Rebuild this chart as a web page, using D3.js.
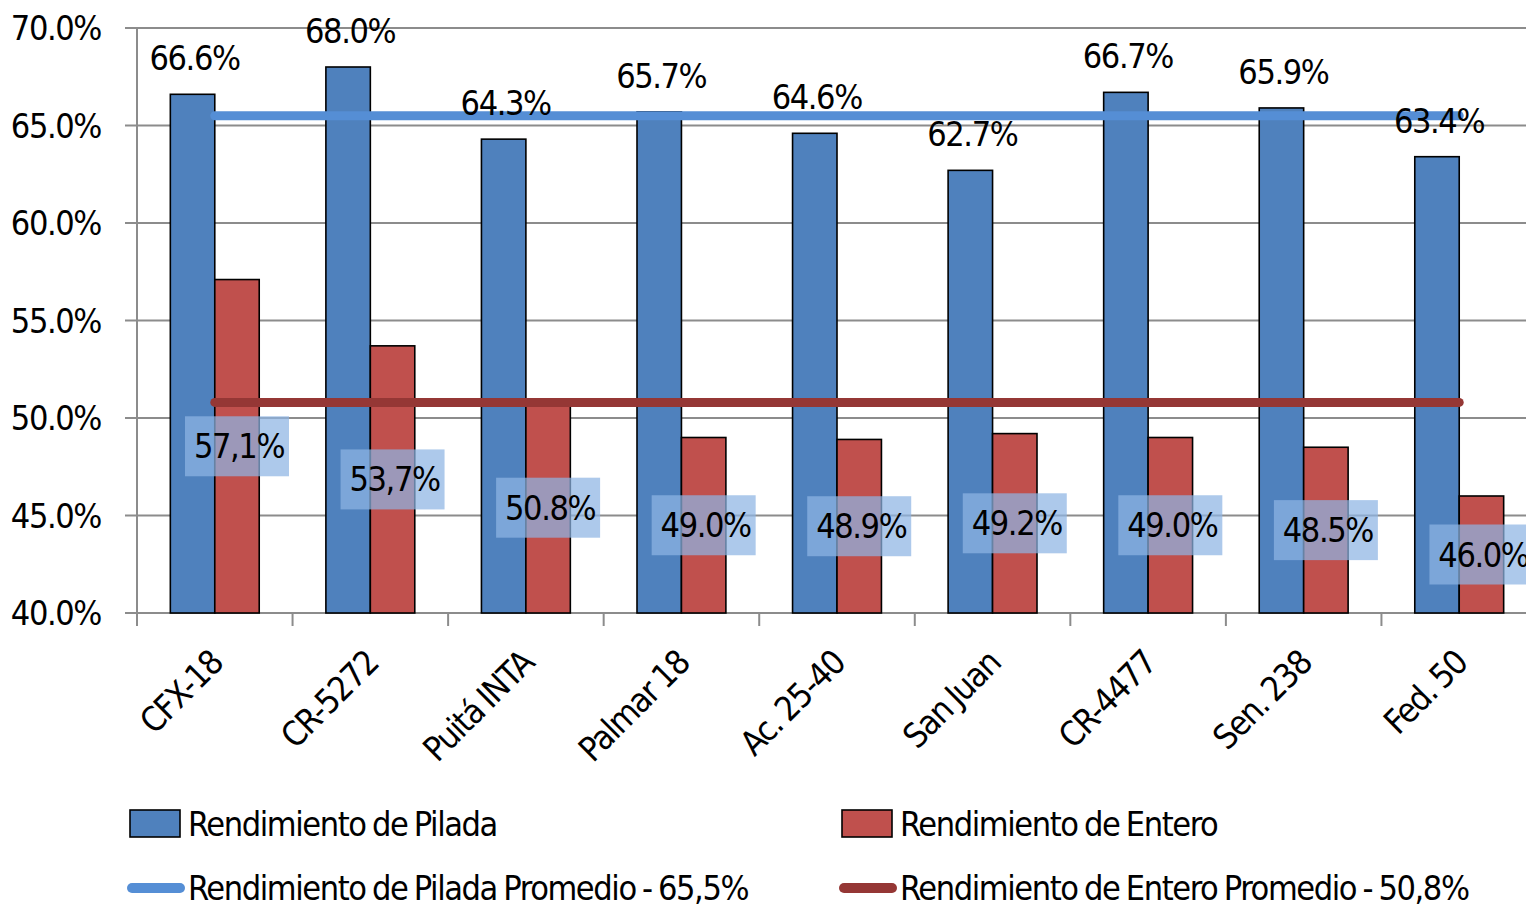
<!DOCTYPE html>
<html><head><meta charset="utf-8">
<script src="https://cdn.jsdelivr.net/npm/d3@7"></script>
<style>
html,body{margin:0;padding:0;background:#fff;overflow:hidden}
text{font-family:"Liberation Sans Narrow","DejaVu Sans Condensed","Arial Narrow",sans-serif;fill:#000}
</style></head><body>
<svg id="c" width="1526" height="907"></svg>
<script>
const categories = ["CFX-18","CR-5272","Puitá INTA","Palmar 18","Ac. 25-40","San Juan","CR-4477","Sen. 238","Fed. 50"];
const pilada = [66.6,68.0,64.3,65.7,64.6,62.7,66.7,65.9,63.4];
const entero = [57.1,53.7,50.8,49.0,48.9,49.2,49.0,48.5,46.0];
const piladaLabels = ["66.6%","68.0%","64.3%","65.7%","64.6%","62.7%","66.7%","65.9%","63.4%"];
const enteroLabels = ["57,1%","53,7%","50.8%","49.0%","48.9%","49.2%","49.0%","48.5%","46.0%"];
const piladaAvg = 65.5;
const enteroAvg = 50.8;
const yTicks = [40,45,50,55,60,65,70];
const yTickLabels = ["40.0%","45.0%","50.0%","55.0%","60.0%","65.0%","70.0%"];
const seriesNames = ["Rendimiento de Pilada","Rendimiento de Entero"];
const avgNames = ["Rendimiento de Pilada Promedio - 65,5%","Rendimiento de Entero Promedio  - 50,8%"];

const svg = d3.select("#c");
const L = 137, R = 1537, T = 28, B = 613;
const FS = 34, LS = "-1.4px", WS = "-2px";
const blue = "#4F81BD", red = "#C0504D", blueLine = "#558ED5", redLine = "#953735", grid = "#8C8C8C";

const y = d3.scaleLinear().domain([40,70]).range([B,T]);
const x = d3.scaleBand().domain(categories).range([L,R]).paddingInner(0).paddingOuter(0);
const xs = d3.scaleBand().domain(["p","e"]).range([0,x.bandwidth()]).paddingInner(0).paddingOuter(0.75);

function txt(sel){ return sel.style("font-size",FS+"px").style("letter-spacing",LS).style("word-spacing",WS); }

// gridlines
svg.append("g").selectAll("line").data(yTicks).join("line")
  .attr("x1",125).attr("x2",1526).attr("y1",d=>y(d)).attr("y2",d=>y(d))
  .attr("stroke",grid).attr("stroke-width",2);
// y axis line
svg.append("line").attr("x1",L).attr("x2",L).attr("y1",T).attr("y2",B+13).attr("stroke",grid).attr("stroke-width",2);
// x ticks
svg.append("g").selectAll("line").data(categories.concat(["_end"])).join("line")
  .attr("x1",(d,i)=>L+i*x.step()).attr("x2",(d,i)=>L+i*x.step())
  .attr("y1",B).attr("y2",B+13).attr("stroke",grid).attr("stroke-width",2);

// y labels
txt(svg.append("g").selectAll("text").data(yTicks).join("text")
  .attr("x",101).attr("y",d=>y(d)+12).attr("text-anchor","end"))
  .text((d,i)=>yTickLabels[i]);

// bars
const g = svg.append("g");
g.selectAll("rect.p").data(pilada).join("rect").attr("class","p")
  .attr("x",(d,i)=>x(categories[i])+xs("p")).attr("width",xs.bandwidth())
  .attr("y",d=>y(d)).attr("height",d=>B-y(d))
  .attr("fill",blue).attr("stroke","#000").attr("stroke-width",1.6);
g.selectAll("rect.e").data(entero).join("rect").attr("class","e")
  .attr("x",(d,i)=>x(categories[i])+xs("e")).attr("width",xs.bandwidth())
  .attr("y",d=>y(d)).attr("height",d=>B-y(d))
  .attr("fill",red).attr("stroke","#000").attr("stroke-width",1.6);

// average lines
const first = x(categories[0])+x.bandwidth()/2, last = x(categories[categories.length-1])+x.bandwidth()/2;
svg.append("line").attr("x1",first).attr("x2",last).attr("y1",y(piladaAvg)).attr("y2",y(piladaAvg))
  .attr("stroke",blueLine).attr("stroke-width",9).attr("stroke-linecap","round");
svg.append("line").attr("x1",first).attr("x2",last).attr("y1",y(enteroAvg)).attr("y2",y(enteroAvg))
  .attr("stroke",redLine).attr("stroke-width",9).attr("stroke-linecap","round");

// pilada labels
txt(svg.append("g").selectAll("text").data(pilada).join("text")
  .attr("x",(d,i)=>x(categories[i])+xs("p")+xs.bandwidth()/2+2)
  .attr("y",d=>y(d)-24).attr("text-anchor","middle"))
  .text((d,i)=>piladaLabels[i]);

// entero labels with boxes
const eg = svg.append("g").selectAll("g").data(entero).join("g")
  .attr("transform",(d,i)=>`translate(${x(categories[i])+xs("e")+xs.bandwidth()/2},${(y(d)+B)/2})`);
eg.append("rect").attr("x",-52).attr("y",-30).attr("width",104).attr("height",60)
  .attr("fill","rgba(142,180,227,0.72)");
txt(eg.append("text").attr("x",2).attr("y",12).attr("text-anchor","middle"))
  .text((d,i)=>enteroLabels[i]);

// x labels
txt(svg.append("g").selectAll("text").data(categories).join("text")
  .attr("transform",d=>`translate(${x(d)+x.bandwidth()/2+10},${665}) rotate(-45)`)
  .attr("text-anchor","end"))
  .text(d=>d);

// legend
const lg = svg.append("g");
const swX = [130,842];
seriesNames.forEach((n,i)=>{
  lg.append("rect").attr("x",swX[i]).attr("y",810).attr("width",50).attr("height",27)
    .attr("fill",i?red:blue).attr("stroke","#000").attr("stroke-width",1.6);
  txt(lg.append("text").attr("x",swX[i]+58).attr("y",836)).text(n);
});
avgNames.forEach((n,i)=>{
  lg.append("line").attr("x1",swX[i]+2).attr("x2",swX[i]+50).attr("y1",888).attr("y2",888)
    .attr("stroke",i?redLine:blueLine).attr("stroke-width",10).attr("stroke-linecap","round");
  txt(lg.append("text").attr("x",swX[i]+58).attr("y",900)).text(n);
});
</script></body></html>
